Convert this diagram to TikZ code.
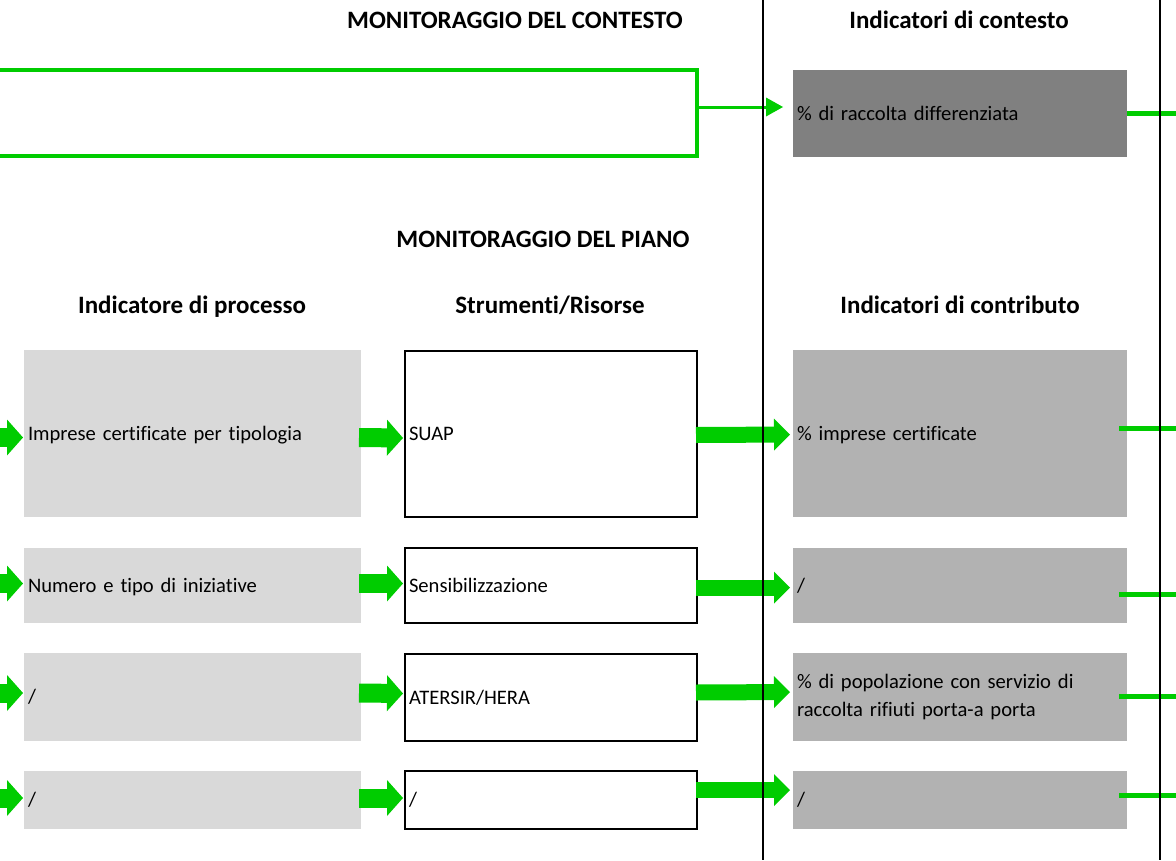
\documentclass[tikz,border=0pt]{standalone}
\usepackage{fontspec}
\setmainfont{Carlito}[Ligatures={NoCommon,NoDiscretionary,NoContextual}]
\usetikzlibrary{arrows.meta,calc}
\definecolor{verde}{HTML}{00CC00}
\definecolor{grigioA}{HTML}{D9D9D9}
\definecolor{grigioB}{HTML}{B2B2B2}
\definecolor{grigioC}{HTML}{808080}
\begin{document}
\begin{tikzpicture}[x=1pt,y=-1pt,
    titolo/.style={font=\fontsize{25}{30}\selectfont\bfseries,anchor=base},
    cella/.style={font=\fontsize{20.6}{28}\selectfont,anchor=north west,align=left,
                  inner xsep=4pt,inner ysep=0pt,outer sep=0pt,
                  text height=15pt,text depth=2pt},
    proc/.style={cella,fill=grigioA,text width=329pt},
    strum/.style={cella,draw=black,line width=2pt,text width=284pt},
    contr/.style={cella,fill=grigioB,text width=326pt},
    grossa/.style={verde,line width=19pt,-{Triangle[length=16pt,width=36pt,line width=0pt]}},
    media/.style={verde,line width=16pt,-{Triangle[length=16pt,width=32pt,line width=0pt]}},
    sottile/.style={verde,line width=3pt,-{Triangle[length=17pt,width=19pt,line width=0pt]}},
    uscita/.style={verde,line width=5pt},
    sep/.style={black,line width=2pt}]
  \useasboundingbox (0,0) rectangle (1176,860);
  \clip (0,0) rectangle (1176,860);
  % ---- titles ----
  \node[titolo] (t1) at (515,28)  {MONITORAGGIO DEL CONTESTO};
  \node[titolo] (t2) at (959,28)  {Indicatori di contesto};
  \node[titolo] (t3) at (543,247) {MONITORAGGIO DEL PIANO};
  \node[titolo] (t4) at (192,313) {Indicatore di processo};
  \node[titolo] (t5) at (550,313) {Strumenti/Risorse};
  \node[titolo] (t6) at (960,313) {Indicatori di contributo};
  % ---- context ----
  \node[draw=verde,line width=4pt,outer sep=0pt,anchor=north west,minimum width=717pt,
        minimum height=86pt] (ctx) at (-20,70) {};
  \node[cella,fill=grigioC,text width=326pt,minimum height=87pt] (ind) at (793,70)
        {\% di raccolta differenziata};
  \coordinate (a0) at ($(ctx.east)+(0,-6)$);
  \draw[sottile,shorten >=10pt] (a0) -- (a0 -| ind.west);
  % ---- the plan, row by row ----
  \node[proc,minimum height=167pt] (p1) at (24,350)  {Imprese certificate per tipologia};
  \node[proc,minimum height=75pt]  (p2) at (24,548)  {Numero e tipo di iniziative};
  \node[proc,minimum height=88pt]  (p3) at (24,653)  {/};
  \node[proc,minimum height=58pt]  (p4) at (24,771)  {/};
  \node[strum,minimum height=166pt] (s1) at (405,351) {SUAP};
  \node[strum,minimum height=75pt]  (s2) at (405,548) {Sensibilizzazione};
  \node[strum,minimum height=87pt]  (s3) at (405,654) {ATERSIR/HERA};
  \node[strum,minimum height=58pt]  (s4) at (405,771) {/};
  \node[contr,minimum height=167pt] (c1) at (793,350) {\% imprese certificate};
  \node[contr,minimum height=75pt]  (c2) at (793,548) {/};
  \node[contr,text height={},text depth={},minimum height=88pt] (c3) at (793,653)
        {\% di popolazione con servizio di\\raccolta rifiuti porta-a porta};
  \node[contr,minimum height=58pt]  (c4) at (793,771) {/};
  % ---- arrows between the columns ----
  \foreach \i/\da/\db/\yo in {1/4/1/428, 2/-2/2/594, 3/-4/-5/696, 4/-2/-10/795}{
    \coordinate (in\i) at ($(p\i.west)+(-30,\da)$);
    \coordinate (out\i) at (1190,\yo);
    \draw[grossa,shorten >=1pt] (in\i) -- ($(p\i.west)+(0,\da)$);
    \draw[grossa,shorten >=2pt] ($(p\i.east)+(-2,\da)$) -- ($(s\i.west)+(0,\da)$);
    \draw[media,shorten >=3pt] ($(s\i.east)+(-1,\db)$) -- ($(c\i.west)+(0,\db)$);
    \draw[uscita] (c\i.east |- out\i) ++(-8,0) -- (out\i);
  }
  \coordinate (out0) at (1190,113);
  \draw[uscita] (ind.east |- out0) -- (out0);
  % ---- column rules ----
  \draw[sep] (763,0) -- (763,860);
  \draw[sep] (1160,0) -- (1160,860);
\end{tikzpicture}
\end{document}
